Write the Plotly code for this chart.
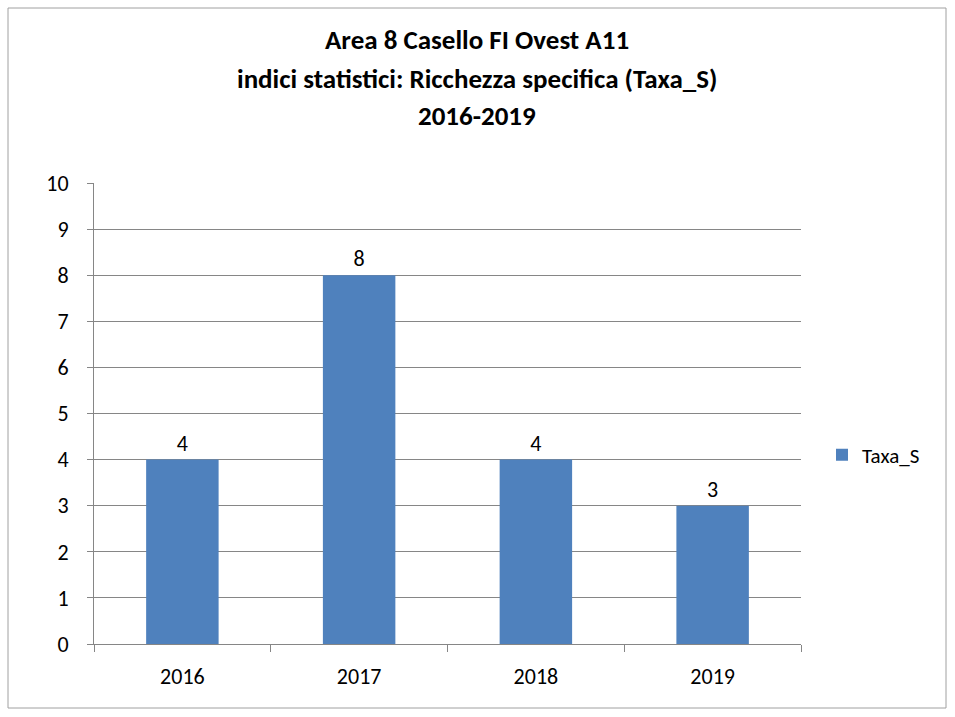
import plotly.graph_objects as go

years = ["2016", "2017", "2018", "2019"]
taxa_s = [4, 8, 4, 3]
title_lines = ["Area 8 Casello FI Ovest A11",
               "indici statistici: Ricchezza specifica (Taxa_S)",
               "2016-2019"]

FONT = "Carlito, Lato, 'Liberation Sans', sans-serif"
GRID = "#868686"

fig = go.Figure()
fig.add_trace(go.Bar(
    x=years, y=taxa_s, name="Taxa_S",
    marker=dict(color="#4F81BD", line=dict(width=0)),
    text=[str(v) for v in taxa_s], textposition="outside",
    textfont=dict(size=22, color="#000000", family=FONT),
    cliponaxis=False,
))

W, H = 955, 717
L, R, T, B = 94, 801, 183, 644
pw, ph = R - L, B - T

def px(p):
    return (p - L) / pw

def py(q):
    return (B - q) / ph

annotations = []
for line, yy in zip(title_lines, [40, 78, 116]):
    annotations.append(dict(
        text="<b>%s</b>" % line, x=px(477), y=py(yy), xref="paper", yref="paper",
        xanchor="center", yanchor="middle", showarrow=False,
        font=dict(size=27, color="#000000", family=FONT)))

fig.update_layout(
    width=W, height=H,
    margin=dict(l=L, r=W - R, t=T, b=H - B, pad=0),
    paper_bgcolor="white", plot_bgcolor="white",
    font=dict(family=FONT, size=22, color="#000000"),
    bargap=0.59,
    showlegend=True,
    legend=dict(x=px(822), y=py(455), xanchor="left", yanchor="middle",
                font=dict(size=21, family=FONT), itemwidth=30,
                bgcolor="rgba(0,0,0,0)"),
    annotations=annotations,
    shapes=[dict(type="rect", xref="paper", yref="paper",
                 x0=px(8), x1=px(946), y0=py(708), y1=py(8),
                 line=dict(color="#A0A0A0", width=1), fillcolor="rgba(0,0,0,0)",
                 layer="below")],
    xaxis=dict(type="category", showline=True, linecolor=GRID, linewidth=1,
               ticks="outside", ticklen=7, tickcolor=GRID, tickson="boundaries",
               showgrid=False, tickfont=dict(size=22, family=FONT),
               ticklabelstandoff=13, mirror=False),
    yaxis=dict(range=[0, 10], dtick=1, showline=True, linecolor=GRID, linewidth=1,
               ticks="outside", ticklen=6, tickcolor=GRID,
               showgrid=True, gridcolor=GRID, gridwidth=1,
               tickfont=dict(size=22, family=FONT), ticklabelstandoff=14,
               zeroline=False),
)

fig.write_html("out.html")
